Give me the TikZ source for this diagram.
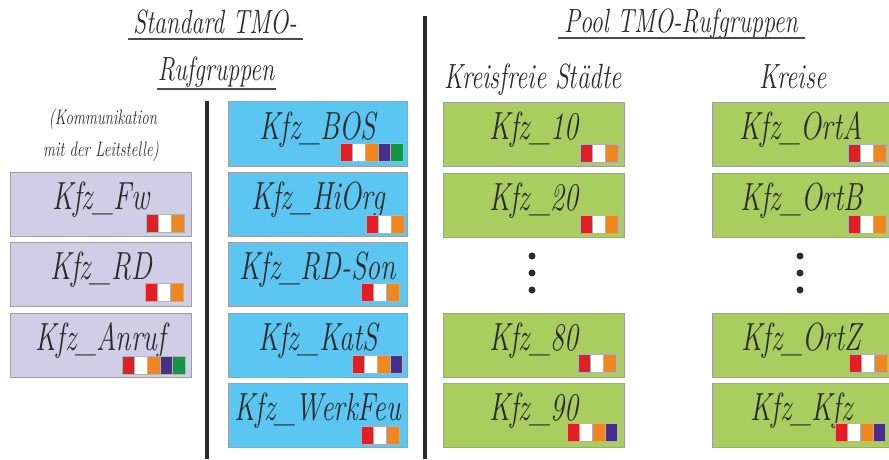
\documentclass[tikz,border=0pt]{standalone}
\usepackage{fontspec}
\usepackage{graphicx}
\definecolor{lav}{HTML}{D2CDE7}
\definecolor{sky}{HTML}{5CC6F2}
\definecolor{grn}{HTML}{A9CD5E}
\definecolor{cred}{HTML}{E31E24}
\definecolor{cora}{HTML}{F0861E}
\definecolor{cpur}{HTML}{47308C}
\definecolor{cgrn}{HTML}{139447}
\definecolor{ink}{HTML}{2B2B2B}
\newcommand\hand[2]{\scalebox{1}[1.4]{\fontsize{#1}{#1}\selectfont\itshape #2}}
\newcommand\cbar[3]{\foreach \c [count=\i from 0] in {#3}{\filldraw[fill=\c, draw=gray!60, line width=0.5pt] ({#1+\i*12.6},#2) rectangle ++(12.6,18);}}
\tikzset{
 kbox/.style={draw=gray!75, line width=0.8pt, anchor=north west, inner sep=0, minimum height=64pt},
 lab/.style={anchor=base, inner sep=0, text=ink},
 head/.style={anchor=base, inner sep=0, text=ink},
 uline/.style={draw=ink!85, line width=1.6pt},
 sep/.style={draw=ink, line width=4pt},
 dot/.style={circle, fill=ink, inner sep=0, minimum size=7pt},
}
\begin{document}
\begin{tikzpicture}[x=1pt,y=-1pt]
\useasboundingbox[fill=white] (0,0) rectangle (889,459);
% headings
\node[head] (h1) at (215,33) {\hand{24}{Standard TMO-}};
\node[head] (h2) at (216,80) {\hand{24}{Rufgruppen}};
\draw[uline] (128,39) -- (303,39);
\draw[uline] (157,89) -- (276,89);
\node[head] (h3) at (103,124) {\hand{15}{(Kommunikation}};
\node[head] (h4) at (101,156) {\hand{15}{mit der Leitstelle)}};
\node[head] (h5) at (681,32) {\hand{24}{Pool TMO-Rufgruppen}};
\draw[uline] (558,38) -- (805,38);
\node[head] (h6) at (533,88) {\hand{25}{Kreisfreie Städte}};
\node[head] (h7) at (793,88) {\hand{25}{Kreise}};
% separators
\coordinate (s1a) at (207,101); \coordinate (s1b) at (207,459);
\coordinate (s2a) at (425,16); \coordinate (s2b) at (425,459);
\draw[sep] (s1a) -- (s1b);
\draw[sep] (s2a) -- (s2b);
% lavender column
\node[kbox, fill=lav, minimum width=181pt] (fw) at (10,172) {};
\node[lab] at ([yshift=-37pt]fw.north) {\hand{28}{Kfz\_Fw}};
\cbar{146}{214}{cred,white,cora}
\node[kbox, fill=lav, minimum width=181pt] (rd) at (10,242) {};
\node[lab] at ([yshift=-37pt]rd.north) {\hand{28}{Kfz\_RD}};
\cbar{145}{283}{cred,white,cora}
\node[kbox, fill=lav, minimum width=181pt] (anruf) at (10,313) {};
\node[lab] at ([yshift=-37pt]anruf.north) {\hand{28}{Kfz\_Anruf}};
\cbar{122}{356}{cred,white,cora,cpur,cgrn}
% blue column
\node[kbox, fill=sky, minimum width=179pt, minimum height=65pt] (bos) at (228,101) {};
\node[lab] at ([yshift=-38pt]bos.north) {\hand{28}{Kfz\_BOS}};
\cbar{340}{143}{cred,white,cora,cpur,cgrn}
\node[kbox, fill=sky, minimum width=179pt] (hiorg) at (228,172) {};
\node[lab] at ([yshift=-37pt]hiorg.north) {\hand{28}{Kfz\_HiOrg}};
\cbar{366}{215}{cred,white,cora}
\node[kbox, fill=sky, minimum width=179pt] (rdson) at (228,242) {};
\node[lab] at ([yshift=-37pt]rdson.north) {\hand{28}{Kfz\_RD-Son}};
\cbar{361}{283}{cred,white,cora}
\node[kbox, fill=sky, minimum width=179pt] (kats) at (228,313) {};
\node[lab] at ([yshift=-37pt]kats.north) {\hand{28}{Kfz\_KatS}};
\cbar{352}{355}{cred,white,cora,cpur}
\node[kbox, fill=sky, minimum width=179pt] (werk) at (228,383) {};
\node[lab] at ([yshift=-37pt]werk.north) {\hand{28}{Kfz\_WerkFeu}};
\cbar{361}{426}{cred,white,cora}
% green left
\node[kbox, fill=grn, minimum width=181pt] (k10) at (443,102) {};
\node[lab] at ([yshift=-37pt]k10.north) {\hand{28}{Kfz\_10}};
\cbar{580}{144}{cred,white,cora}
\node[kbox, fill=grn, minimum width=181pt] (k20) at (443,173) {};
\node[lab] at ([yshift=-37pt]k20.north) {\hand{28}{Kfz\_20}};
\cbar{580}{215}{cred,white,cora}
\node[kbox, fill=grn, minimum width=181pt] (k80) at (443,313) {};
\node[lab] at ([yshift=-37pt]k80.north) {\hand{28}{Kfz\_80}};
\cbar{578}{354}{cred,white,cora}
\node[kbox, fill=grn, minimum width=181pt] (k90) at (443,383) {};
\node[lab] at ([yshift=-37pt]k90.north) {\hand{28}{Kfz\_90}};
\cbar{567}{423}{cred,white,cora,cpur}
% green right
\node[kbox, fill=grn, minimum width=178pt] (orta) at (712,102) {};
\node[lab] at ([yshift=-37pt]orta.north) {\hand{28}{Kfz\_OrtA}};
\cbar{848}{144}{cred,white,cora}
\node[kbox, fill=grn, minimum width=178pt] (ortb) at (712,173) {};
\node[lab] at ([yshift=-37pt]ortb.north) {\hand{28}{Kfz\_OrtB}};
\cbar{848}{215}{cred,white,cora}
\node[kbox, fill=grn, minimum width=178pt] (ortz) at (712,313) {};
\node[lab] at ([yshift=-37pt]ortz.north) {\hand{28}{Kfz\_OrtZ}};
\cbar{849}{354}{cred,white,cora}
\node[kbox, fill=grn, minimum width=178pt] (kfz) at (712,383) {};
\node[lab] at ([yshift=-37pt]kfz.north) {\hand{28}{Kfz\_Kfz}};
\cbar{835}{423}{cred,white,cora,cpur}
% dots
\node[dot] (d1) at (532,256) {};
\node[dot] (d2) at (532,273) {};
\node[dot] (d3) at (532,290) {};
\node[dot] (d4) at (800,256) {};
\node[dot] (d5) at (800,273) {};
\node[dot] (d6) at (800,290) {};
\end{tikzpicture}
\end{document}
